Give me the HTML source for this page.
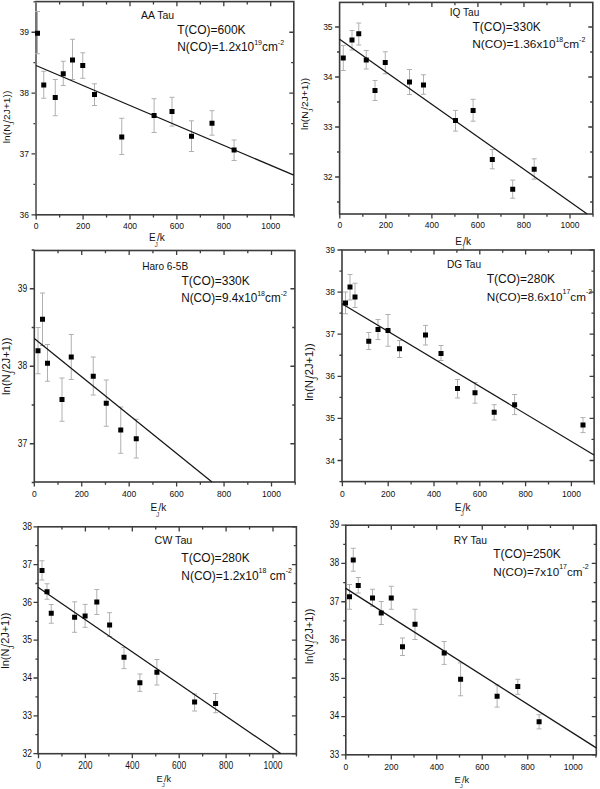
<!DOCTYPE html>
<html><head><meta charset="utf-8"><style>
html,body{margin:0;padding:0;background:#fff;}
body{width:600px;height:789px;overflow:hidden;}
svg{display:block;}
text{font-family:"Liberation Sans", sans-serif;fill:#111;}
</style></head><body>
<svg width="600" height="789" viewBox="0 0 600 789">
<rect width="600" height="789" fill="#fff"/>
<g><path d="M36.2 214.8v4.6M59.65 214.8v2.8M59.65 1.6v2.8M83.1 214.8v4.6M83.1 1.6v4.6M106.55 214.8v2.8M106.55 1.6v2.8M130 214.8v4.6M130 1.6v4.6M153.45 214.8v2.8M153.45 1.6v2.8M176.9 214.8v4.6M176.9 1.6v4.6M200.35 214.8v2.8M200.35 1.6v2.8M223.8 214.8v4.6M223.8 1.6v4.6M247.25 214.8v2.8M247.25 1.6v2.8M270.7 214.8v4.6M270.7 1.6v4.6M294.15 214.8v2.8M36 214.8h-4.5M293.8 214.8h-4.5M36 153.95h-4.5M293.8 153.95h-4.5M36 93.1h-4.5M293.8 93.1h-4.5M36 32.25h-4.5M293.8 32.25h-4.5M36 184.38h-2.6M293.8 184.38h-2.6M36 123.53h-2.6M293.8 123.53h-2.6M36 62.68h-2.6M293.8 62.68h-2.6M36 1.83h-2.6" stroke="#3c3c3c" stroke-width="1.3" fill="none"/>
<rect x="36" y="1.6" width="257.8" height="213.2" stroke="#3c3c3c" stroke-width="1.6" fill="none"/>
<line x1="36" y1="2.6" x2="36" y2="213.8" stroke="#fff" stroke-width="1.8"/>
<line x1="36" y1="2.4" x2="36" y2="214" stroke="#6e6e6e" stroke-width="1.9"/>
<path d="M37.5 11.5V53.75M35 11.5H40M35 53.75H40M43.75 71.25V98.25M41.25 71.25H46.25M41.25 98.25H46.25M55.25 79.5V115.75M52.75 79.5H57.75M52.75 115.75H57.75M63.25 61.25V85.5M60.75 61.25H65.75M60.75 85.5H65.75M72.5 39.25V79.5M70 39.25H75M70 79.5H75M82.75 52.75V78.25M80.25 52.75H85.25M80.25 78.25H85.25M94.5 83.75V105.5M92 83.75H97M92 105.5H97M121.75 118.25V154.5M119.25 118.25H124.25M119.25 154.5H124.25M154.1 98.7V132.5M151.6 98.7H156.6M151.6 132.5H156.6M172 97.3V126.1M169.5 97.3H174.5M169.5 126.1H174.5M191.5 120.8V151.5M189 120.8H194M189 151.5H194M212 110.7V135.2M209.5 110.7H214.5M209.5 135.2H214.5M234.1 140V160.5M231.6 140H236.6M231.6 160.5H236.6" stroke="#b0b0b0" stroke-width="1" fill="none"/>
<line x1="36" y1="65.5" x2="293.8" y2="175.2" stroke="#151515" stroke-width="1.25"/>
<path d="M35 30.7h5v5h-5zM41.25 82.5h5v5h-5zM52.75 95h5v5h-5zM60.75 71.25h5v5h-5zM70 57.5h5v5h-5zM80.25 63h5v5h-5zM92 92h5v5h-5zM119.25 134.5h5v5h-5zM151.6 113h5v5h-5zM169.5 109h5v5h-5zM189 133.8h5v5h-5zM209.5 120.7h5v5h-5zM231.6 147.4h5v5h-5z" fill="#000"/>
<g font-size="8.5"><text transform="translate(36.2 225.9) scale(1 1.0)" y="3.05" text-anchor="middle">0</text><text transform="translate(83.1 225.9) scale(1 1.0)" y="3.05" text-anchor="middle">200</text><text transform="translate(130 225.9) scale(1 1.0)" y="3.05" text-anchor="middle">400</text><text transform="translate(176.9 225.9) scale(1 1.0)" y="3.05" text-anchor="middle">600</text><text transform="translate(223.8 225.9) scale(1 1.0)" y="3.05" text-anchor="middle">800</text><text transform="translate(270.7 225.9) scale(1 1.0)" y="3.05" text-anchor="middle">1000</text><text transform="translate(29 214.8) scale(1 1.0)" y="3.05" text-anchor="end">36</text><text transform="translate(29 153.95) scale(1 1.0)" y="3.05" text-anchor="end">37</text><text transform="translate(29 93.1) scale(1 1.0)" y="3.05" text-anchor="end">38</text><text transform="translate(29 32.25) scale(1 1.0)" y="3.05" text-anchor="end">39</text></g>
<text x="141" y="19.2" font-size="10.5">AA Tau</text>
<text transform="translate(177.2 33.9) scale(1 1.0)" font-size="12">T(CO)=600K</text>
<text transform="translate(177.2 50.6) scale(1 1.0)" font-size="11.9" xml:space="preserve">N(CO)=1.2x10<tspan font-size="7" dy="-5.6">19</tspan><tspan dy="5.6">cm</tspan><tspan font-size="7" dy="-5.6">-2</tspan></text>
<text x="149" y="241.3" font-size="10">E</text>
<text x="154.6" y="246.7" font-size="6.6" style="fill:#444">J</text>
<text x="157" y="241.3" font-size="10">/k</text>
<g transform="translate(9.8 116.9) rotate(-90) scale(1.035 1)" font-size="9.9"><text x="-25.41" y="0">ln(N</text><text x="-7.56" y="4.55" font-size="6.14">J</text><text x="-5.68" y="0">/2J+1))</text></g></g>
<g><path d="M339.8 214v4.6M362.82 214v2.8M362.82 2.4v2.8M385.84 214v4.6M385.84 2.4v4.6M408.86 214v2.8M408.86 2.4v2.8M431.88 214v4.6M431.88 2.4v4.6M454.9 214v2.8M454.9 2.4v2.8M477.92 214v4.6M477.92 2.4v4.6M500.94 214v2.8M500.94 2.4v2.8M523.96 214v4.6M523.96 2.4v4.6M546.98 214v2.8M546.98 2.4v2.8M570 214v4.6M570 2.4v4.6M593.02 214v2.8M339.6 177h-4.5M592.8 177h-4.5M339.6 127h-4.5M592.8 127h-4.5M339.6 77h-4.5M592.8 77h-4.5M339.6 27h-4.5M592.8 27h-4.5M339.6 202h-2.6M592.8 202h-2.6M339.6 152h-2.6M592.8 152h-2.6M339.6 102h-2.6M592.8 102h-2.6M339.6 52h-2.6M592.8 52h-2.6" stroke="#3c3c3c" stroke-width="1.3" fill="none"/>
<rect x="339.6" y="2.4" width="253.2" height="211.6" stroke="#3c3c3c" stroke-width="1.6" fill="none"/>
<path d="M343.25 45.5V70.5M340.75 45.5H345.75M340.75 70.5H345.75M352 30.5V50M349.5 30.5H354.5M349.5 50H354.5M358.75 23V45M356.25 23H361.25M356.25 45H361.25M366.25 50.5V69M363.75 50.5H368.75M363.75 69H368.75M375 80.5V100.5M372.5 80.5H377.5M372.5 100.5H377.5M385.25 51.75V73.75M382.75 51.75H387.75M382.75 73.75H387.75M409.5 69.5V94.5M407 69.5H412M407 94.5H412M423.5 74.75V94.25M421 74.75H426M421 94.25H426M455.5 110.4V131.1M453 110.4H458M453 131.1H458M473.1 99.3V121.2M470.6 99.3H475.6M470.6 121.2H475.6M492.3 149.5V168.8M489.8 149.5H494.8M489.8 168.8H494.8M512.7 180.1V198.2M510.2 180.1H515.2M510.2 198.2H515.2M534.2 158.8V179.2M531.7 158.8H536.7M531.7 179.2H536.7" stroke="#b0b0b0" stroke-width="1" fill="none"/>
<line x1="339.6" y1="39.25" x2="587.2" y2="214" stroke="#151515" stroke-width="1.25"/>
<path d="M340.75 55.5h5v5h-5zM349.5 37.5h5v5h-5zM356.25 31.25h5v5h-5zM363.75 57.5h5v5h-5zM372.5 88h5v5h-5zM382.75 60h5v5h-5zM407 79.5h5v5h-5zM421 82.5h5v5h-5zM453 118.1h5v5h-5zM470.6 107.9h5v5h-5zM489.8 156.9h5v5h-5zM510.2 186.7h5v5h-5zM531.7 166.8h5v5h-5z" fill="#000"/>
<g font-size="8.5"><text transform="translate(339.8 224.9) scale(1 1.0)" y="3.05" text-anchor="middle">0</text><text transform="translate(385.84 224.9) scale(1 1.0)" y="3.05" text-anchor="middle">200</text><text transform="translate(431.88 224.9) scale(1 1.0)" y="3.05" text-anchor="middle">400</text><text transform="translate(477.92 224.9) scale(1 1.0)" y="3.05" text-anchor="middle">600</text><text transform="translate(523.96 224.9) scale(1 1.0)" y="3.05" text-anchor="middle">800</text><text transform="translate(570 224.9) scale(1 1.0)" y="3.05" text-anchor="middle">1000</text><text transform="translate(332.6 177) scale(1 1.0)" y="3.05" text-anchor="end">32</text><text transform="translate(332.6 127) scale(1 1.0)" y="3.05" text-anchor="end">33</text><text transform="translate(332.6 77) scale(1 1.0)" y="3.05" text-anchor="end">34</text><text transform="translate(332.6 27) scale(1 1.0)" y="3.05" text-anchor="end">35</text></g>
<text x="449.8" y="15.8" font-size="10.1">IQ Tau</text>
<text transform="translate(472.5 31) scale(1 1.0)" font-size="12">T(CO)=330K</text>
<text transform="translate(472.3 48.1) scale(1 1.0)" font-size="11.83" xml:space="preserve">N(CO)=1.36x10<tspan font-size="7" dy="-6.2">18</tspan><tspan dy="6.2">cm</tspan><tspan font-size="7" dy="-6.2">-2</tspan></text>
<text x="455.3" y="244.9" font-size="10">E</text>
<text x="460.9" y="250.3" font-size="6.6" style="fill:#444">J</text>
<text x="463.3" y="244.9" font-size="10">/k</text>
<g transform="translate(308 104) rotate(-90) scale(1.035 1)" font-size="9.8"><text x="-25.15" y="0">ln(N</text><text x="-7.48" y="4.51" font-size="6.08">J</text><text x="-5.62" y="0">/2J+1))</text></g></g>
<g><path d="M34.3 482v4.6M58.02 482v2.8M58.02 250.5v2.8M81.74 482v4.6M81.74 250.5v4.6M105.46 482v2.8M105.46 250.5v2.8M129.18 482v4.6M129.18 250.5v4.6M152.9 482v2.8M152.9 250.5v2.8M176.62 482v4.6M176.62 250.5v4.6M200.34 482v2.8M200.34 250.5v2.8M224.06 482v4.6M224.06 250.5v4.6M247.78 482v2.8M247.78 250.5v2.8M271.5 482v4.6M271.5 250.5v4.6M295.22 482v2.8M34.3 443.75h-4.5M294.9 443.75h-4.5M34.3 366.25h-4.5M294.9 366.25h-4.5M34.3 288.75h-4.5M294.9 288.75h-4.5M34.3 482.5h-2.6M34.3 405h-2.6M294.9 405h-2.6M34.3 327.5h-2.6M294.9 327.5h-2.6M34.3 250h-2.6" stroke="#3c3c3c" stroke-width="1.3" fill="none"/>
<rect x="34.3" y="250.5" width="260.6" height="231.5" stroke="#3c3c3c" stroke-width="1.6" fill="none"/>
<path d="M38 327.5V373.75M35.5 327.5H40.5M35.5 373.75H40.5M42.5 293V345.5M40 293H45M40 345.5H45M47.5 344.5V381.25M45 344.5H50M45 381.25H50M62 378V421.25M59.5 378H64.5M59.5 421.25H64.5M71.25 334.5V379.5M68.75 334.5H73.75M68.75 379.5H73.75M93.25 357V395M90.75 357H95.75M90.75 395H95.75M106.25 380V426.25M103.75 380H108.75M103.75 426.25H108.75M120.75 407V453.25M118.25 407H123.25M118.25 453.25H123.25M136.25 419.25V458M133.75 419.25H138.75M133.75 458H138.75" stroke="#b0b0b0" stroke-width="1" fill="none"/>
<line x1="34.3" y1="338.4" x2="212" y2="482" stroke="#151515" stroke-width="1.25"/>
<path d="M35.5 348.25h5v5h-5zM40 316.75h5v5h-5zM45 360.75h5v5h-5zM59.5 397h5v5h-5zM68.75 354.5h5v5h-5zM90.75 373.75h5v5h-5zM103.75 400.75h5v5h-5zM118.25 427.5h5v5h-5zM133.75 436.25h5v5h-5z" fill="#000"/>
<g font-size="8.5"><text transform="translate(34.3 493.9) scale(1 1.0)" y="3.05" text-anchor="middle">0</text><text transform="translate(81.74 493.9) scale(1 1.0)" y="3.05" text-anchor="middle">200</text><text transform="translate(129.18 493.9) scale(1 1.0)" y="3.05" text-anchor="middle">400</text><text transform="translate(176.62 493.9) scale(1 1.0)" y="3.05" text-anchor="middle">600</text><text transform="translate(224.06 493.9) scale(1 1.0)" y="3.05" text-anchor="middle">800</text><text transform="translate(271.5 493.9) scale(1 1.0)" y="3.05" text-anchor="middle">1000</text><text transform="translate(27.3 442.95) scale(1 1.22)" y="3.05" text-anchor="end">37</text><text transform="translate(27.3 365.45) scale(1 1.22)" y="3.05" text-anchor="end">38</text><text transform="translate(27.3 287.95) scale(1 1.22)" y="3.05" text-anchor="end">39</text></g>
<text x="142.2" y="269.8" font-size="10.1">Haro 6-5B</text>
<text transform="translate(181.4 284.7) scale(1 1.1)" font-size="12.0">T(CO)=330K</text>
<text transform="translate(181.2 302.4) scale(1 1.1)" font-size="11.75" xml:space="preserve">N(CO)=9.4x10<tspan font-size="7" dy="-5.8">18</tspan><tspan dy="5.8">cm</tspan><tspan font-size="7" dy="-5.8">-2</tspan></text>
<text x="150.4" y="511.3" font-size="10">E</text>
<text x="156" y="516.7" font-size="6.6" style="fill:#444">J</text>
<text x="158.4" y="511.3" font-size="10">/k</text>
<g transform="translate(10.4 366.3) rotate(-90) scale(1.035 1)" font-size="10.8"><text x="-27.72" y="0">ln(N</text><text x="-8.25" y="4.97" font-size="6.7">J</text><text x="-6.19" y="0">/2J+1))</text></g></g>
<g><path d="M342.4 481.6v4.6M365.3 481.6v2.8M365.3 250v2.8M388.2 481.6v4.6M388.2 250v4.6M411.1 481.6v2.8M411.1 250v2.8M434 481.6v4.6M434 250v4.6M456.9 481.6v2.8M456.9 250v2.8M479.8 481.6v4.6M479.8 250v4.6M502.7 481.6v2.8M502.7 250v2.8M525.6 481.6v4.6M525.6 250v4.6M548.5 481.6v2.8M548.5 250v2.8M571.4 481.6v4.6M571.4 250v4.6M594.3 481.6v2.8M342 460.5h-4.5M594.1 460.5h-4.5M342 418.4h-4.5M594.1 418.4h-4.5M342 376.3h-4.5M594.1 376.3h-4.5M342 334.2h-4.5M594.1 334.2h-4.5M342 292.1h-4.5M594.1 292.1h-4.5M342 250h-4.5M594.1 250h-4.5M342 481.55h-2.6M342 439.45h-2.6M594.1 439.45h-2.6M342 397.35h-2.6M594.1 397.35h-2.6M342 355.25h-2.6M594.1 355.25h-2.6M342 313.15h-2.6M594.1 313.15h-2.6M342 271.05h-2.6M594.1 271.05h-2.6" stroke="#3c3c3c" stroke-width="1.3" fill="none"/>
<rect x="342" y="250" width="252.1" height="231.6" stroke="#3c3c3c" stroke-width="1.6" fill="none"/>
<path d="M345.5 292V313.75M343 292H348M343 313.75H348M350 274.5V300M347.5 274.5H352.5M347.5 300H352.5M355 283.25V307.5M352.5 283.25H357.5M352.5 307.5H357.5M368.75 332.5V349.5M366.25 332.5H371.25M366.25 349.5H371.25M378 319.5V339.5M375.5 319.5H380.5M375.5 339.5H380.5M388 314.5V346.25M385.5 314.5H390.5M385.5 346.25H390.5M399.5 340.5V357.5M397 340.5H402M397 357.5H402M425.5 325.4V345M423 325.4H428M423 345H428M441 345.5V360.5M438.5 345.5H443.5M438.5 360.5H443.5M457.5 379.5V398M455 379.5H460M455 398H460M475 382.5V403.2M472.5 382.5H477.5M472.5 403.2H477.5M494.2 404.7V420M491.7 404.7H496.7M491.7 420H496.7M514.6 394.5V414.6M512.1 394.5H517.1M512.1 414.6H517.1M583 417.6V432.6M580.5 417.6H585.5M580.5 432.6H585.5" stroke="#b0b0b0" stroke-width="1" fill="none"/>
<line x1="342" y1="303.75" x2="594" y2="455" stroke="#151515" stroke-width="1.25"/>
<path d="M343 300.5h5v5h-5zM347.5 284.5h5v5h-5zM352.5 294.5h5v5h-5zM366.25 338.75h5v5h-5zM375.5 327h5v5h-5zM385.5 328h5v5h-5zM397 346.25h5v5h-5zM423 332.5h5v5h-5zM438.5 351.1h5v5h-5zM455 386h5v5h-5zM472.5 390.2h5v5h-5zM491.7 409.7h5v5h-5zM512.1 402.2h5v5h-5zM580.5 422.6h5v5h-5z" fill="#000"/>
<g font-size="8.5"><text transform="translate(342.4 493.95) scale(1 1.0)" y="3.05" text-anchor="middle">0</text><text transform="translate(388.2 493.95) scale(1 1.0)" y="3.05" text-anchor="middle">200</text><text transform="translate(434 493.95) scale(1 1.0)" y="3.05" text-anchor="middle">400</text><text transform="translate(479.8 493.95) scale(1 1.0)" y="3.05" text-anchor="middle">600</text><text transform="translate(525.6 493.95) scale(1 1.0)" y="3.05" text-anchor="middle">800</text><text transform="translate(571.4 493.95) scale(1 1.0)" y="3.05" text-anchor="middle">1000</text><text transform="translate(335 460.5) scale(1 1.0)" y="3.05" text-anchor="end">34</text><text transform="translate(335 418.4) scale(1 1.0)" y="3.05" text-anchor="end">35</text><text transform="translate(335 376.3) scale(1 1.0)" y="3.05" text-anchor="end">36</text><text transform="translate(335 334.2) scale(1 1.0)" y="3.05" text-anchor="end">37</text><text transform="translate(335 292.1) scale(1 1.0)" y="3.05" text-anchor="end">38</text><text transform="translate(335 250) scale(1 1.0)" y="3.05" text-anchor="end">39</text></g>
<text x="447" y="267.7" font-size="10.1">DG Tau</text>
<text transform="translate(486.7 282.8) scale(1 1.0)" font-size="12">T(CO)=280K</text>
<text transform="translate(486.7 300.6) scale(1 1.0)" font-size="11.72" xml:space="preserve">N(CO)=8.6x10<tspan font-size="7" dy="-6.3">17</tspan><tspan dy="6.3">cm</tspan><tspan font-size="7" dy="-6.3">-2</tspan></text>
<text x="454.8" y="510.8" font-size="10">E</text>
<text x="460.4" y="516.2" font-size="6.6" style="fill:#444">J</text>
<text x="462.8" y="510.8" font-size="10">/k</text>
<g transform="translate(312.8 372) rotate(-90) scale(1.035 1)" font-size="10.8"><text x="-27.72" y="0">ln(N</text><text x="-8.25" y="4.97" font-size="6.7">J</text><text x="-6.19" y="0">/2J+1))</text></g></g>
<g><path d="M38.5 753.7v4.6M61.95 753.7v2.8M61.95 526.8v2.8M85.4 753.7v4.6M85.4 526.8v4.6M108.85 753.7v2.8M108.85 526.8v2.8M132.3 753.7v4.6M132.3 526.8v4.6M155.75 753.7v2.8M155.75 526.8v2.8M179.2 753.7v4.6M179.2 526.8v4.6M202.65 753.7v2.8M202.65 526.8v2.8M226.1 753.7v4.6M226.1 526.8v4.6M249.55 753.7v2.8M249.55 526.8v2.8M273 753.7v4.6M273 526.8v4.6M296.45 753.7v2.8M38 753.6h-4.5M296.4 753.6h-4.5M38 715.8h-4.5M296.4 715.8h-4.5M38 678h-4.5M296.4 678h-4.5M38 640.2h-4.5M296.4 640.2h-4.5M38 602.4h-4.5M296.4 602.4h-4.5M38 564.6h-4.5M296.4 564.6h-4.5M38 526.8h-4.5M296.4 526.8h-4.5M38 734.7h-2.6M296.4 734.7h-2.6M38 696.9h-2.6M296.4 696.9h-2.6M38 659.1h-2.6M296.4 659.1h-2.6M38 621.3h-2.6M296.4 621.3h-2.6M38 583.5h-2.6M296.4 583.5h-2.6M38 545.7h-2.6M296.4 545.7h-2.6" stroke="#3c3c3c" stroke-width="1.3" fill="none"/>
<rect x="38" y="526.8" width="258.4" height="226.9" stroke="#3c3c3c" stroke-width="1.6" fill="none"/>
<path d="M42 560.75V580M39.5 560.75H44.5M39.5 580H44.5M47 583.75V599.25M44.5 583.75H49.5M44.5 599.25H49.5M51.25 604.5V623.25M48.75 604.5H53.75M48.75 623.25H53.75M74.6 601.8V632.3M72.1 601.8H77.1M72.1 632.3H77.1M85.1 604.4V627.3M82.6 604.4H87.6M82.6 627.3H87.6M96.8 589.5V614.5M94.3 589.5H99.3M94.3 614.5H99.3M109.6 612.7V636.6M107.1 612.7H112.1M107.1 636.6H112.1M124 647.5V668.6M121.5 647.5H126.5M121.5 668.6H126.5M139.9 674V691.3M137.4 674H142.4M137.4 691.3H142.4M156.9 659.5V685M154.4 659.5H159.4M154.4 685H159.4M194.6 694V711M192.1 694H197.1M192.1 711H197.1M215.6 693.5V712.7M213.1 693.5H218.1M213.1 712.7H218.1" stroke="#b0b0b0" stroke-width="1" fill="none"/>
<line x1="38" y1="587.3" x2="280.7" y2="753.6" stroke="#151515" stroke-width="1.25"/>
<path d="M39.5 568h5v5h-5zM44.5 589.25h5v5h-5zM48.75 610.75h5v5h-5zM72.1 614.7h5v5h-5zM82.6 613.5h5v5h-5zM94.3 599.5h5v5h-5zM107.1 622.4h5v5h-5zM121.5 654.8h5v5h-5zM137.4 680.3h5v5h-5zM154.4 669.7h5v5h-5zM192.1 699.5h5v5h-5zM213.1 700.9h5v5h-5z" fill="#000"/>
<g font-size="8.5"><text transform="translate(38.5 765.75) scale(1 1.2)" y="3.05" text-anchor="middle">0</text><text transform="translate(85.4 765.75) scale(1 1.2)" y="3.05" text-anchor="middle">200</text><text transform="translate(132.3 765.75) scale(1 1.2)" y="3.05" text-anchor="middle">400</text><text transform="translate(179.2 765.75) scale(1 1.2)" y="3.05" text-anchor="middle">600</text><text transform="translate(226.1 765.75) scale(1 1.2)" y="3.05" text-anchor="middle">800</text><text transform="translate(273 765.75) scale(1 1.2)" y="3.05" text-anchor="middle">1000</text><text transform="translate(32 753.1) scale(1 1.22)" y="3.05" text-anchor="end">32</text><text transform="translate(32 715.3) scale(1 1.22)" y="3.05" text-anchor="end">33</text><text transform="translate(32 677.5) scale(1 1.22)" y="3.05" text-anchor="end">34</text><text transform="translate(32 639.7) scale(1 1.22)" y="3.05" text-anchor="end">35</text><text transform="translate(32 601.9) scale(1 1.22)" y="3.05" text-anchor="end">36</text><text transform="translate(32 564.1) scale(1 1.22)" y="3.05" text-anchor="end">37</text><text transform="translate(32 526.3) scale(1 1.22)" y="3.05" text-anchor="end">38</text></g>
<text x="154.5" y="543.8" font-size="10.7">CW Tau</text>
<text transform="translate(181.3 561.9) scale(1 1.0)" font-size="12">T(CO)=280K</text>
<text transform="translate(181.3 579.5) scale(1 1.0)" font-size="11.95" xml:space="preserve">N(CO)=1.2x10<tspan font-size="7" dy="-6.3">18</tspan><tspan dy="6.3"> cm</tspan><tspan font-size="7" dy="-6.3">-2</tspan></text>
<text x="156.4" y="782" font-size="9.3">E</text>
<text x="161.65" y="787.02" font-size="6.14" style="fill:#444">J</text>
<text x="163.88" y="782" font-size="9.3">/k</text>
<g transform="translate(9.2 640.6) rotate(-90) scale(1.035 1)" font-size="10.6"><text x="-27.2" y="0">ln(N</text><text x="-8.09" y="4.88" font-size="6.57">J</text><text x="-6.08" y="0">/2J+1))</text></g></g>
<g><path d="M345.8 754.8v4.6M368.54 754.8v2.8M368.54 525.2v2.8M391.28 754.8v4.6M391.28 525.2v4.6M414.02 754.8v2.8M414.02 525.2v2.8M436.76 754.8v4.6M436.76 525.2v4.6M459.5 754.8v2.8M459.5 525.2v2.8M482.24 754.8v4.6M482.24 525.2v4.6M504.98 754.8v2.8M504.98 525.2v2.8M527.72 754.8v4.6M527.72 525.2v4.6M550.46 754.8v2.8M550.46 525.2v2.8M573.2 754.8v4.6M573.2 525.2v4.6M595.94 754.8v2.8M345.8 754.82h-4.5M596.3 754.82h-4.5M345.8 716.55h-4.5M596.3 716.55h-4.5M345.8 678.28h-4.5M596.3 678.28h-4.5M345.8 640.01h-4.5M596.3 640.01h-4.5M345.8 601.74h-4.5M596.3 601.74h-4.5M345.8 563.47h-4.5M596.3 563.47h-4.5M345.8 525.2h-4.5M596.3 525.2h-4.5M345.8 735.69h-2.6M596.3 735.69h-2.6M345.8 697.42h-2.6M596.3 697.42h-2.6M345.8 659.15h-2.6M596.3 659.15h-2.6M345.8 620.88h-2.6M596.3 620.88h-2.6M345.8 582.61h-2.6M596.3 582.61h-2.6M345.8 544.34h-2.6M596.3 544.34h-2.6" stroke="#3c3c3c" stroke-width="1.3" fill="none"/>
<rect x="345.8" y="525.2" width="250.5" height="229.6" stroke="#3c3c3c" stroke-width="1.6" fill="none"/>
<path d="M349.5 584.5V609.25M347 584.5H352M347 609.25H352M353.25 548.25V571.25M350.75 548.25H355.75M350.75 571.25H355.75M358.25 577.5V593M355.75 577.5H360.75M355.75 593H360.75M372.5 589.25V606.25M370 589.25H375M370 606.25H375M381.25 601.5V624.5M378.75 601.5H383.75M378.75 624.5H383.75M391.25 586.25V609.25M388.75 586.25H393.75M388.75 609.25H393.75M402.5 638V655.5M400 638H405M400 655.5H405M415 609.25V639.5M412.5 609.25H417.5M412.5 639.5H417.5M444.2 641.5V664.4M441.7 641.5H446.7M441.7 664.4H446.7M460.6 662.9V695.8M458.1 662.9H463.1M458.1 695.8H463.1M497.1 685V707.1M494.6 685H499.6M494.6 707.1H499.6M517.8 679.3V694.3M515.3 679.3H520.3M515.3 694.3H520.3M539.1 714.7V728.9M536.6 714.7H541.6M536.6 728.9H541.6" stroke="#b0b0b0" stroke-width="1" fill="none"/>
<line x1="345.8" y1="588.4" x2="596.3" y2="747.9" stroke="#151515" stroke-width="1.25"/>
<path d="M347 594.25h5v5h-5zM350.75 557.5h5v5h-5zM355.75 583h5v5h-5zM370 595.5h5v5h-5zM378.75 610.5h5v5h-5zM388.75 595.5h5v5h-5zM400 644.25h5v5h-5zM412.5 621.75h5v5h-5zM441.7 650.5h5v5h-5zM458.1 676.8h5v5h-5zM494.6 693.8h5v5h-5zM515.3 683.9h5v5h-5zM536.6 719.3h5v5h-5z" fill="#000"/>
<g font-size="8.5"><text transform="translate(345.8 767.35) scale(1 1.0)" y="3.05" text-anchor="middle">0</text><text transform="translate(391.28 767.35) scale(1 1.0)" y="3.05" text-anchor="middle">200</text><text transform="translate(436.76 767.35) scale(1 1.0)" y="3.05" text-anchor="middle">400</text><text transform="translate(482.24 767.35) scale(1 1.0)" y="3.05" text-anchor="middle">600</text><text transform="translate(527.72 767.35) scale(1 1.0)" y="3.05" text-anchor="middle">800</text><text transform="translate(573.2 767.35) scale(1 1.0)" y="3.05" text-anchor="middle">1000</text><text transform="translate(339.3 753.92) scale(1 1.22)" y="3.05" text-anchor="end">33</text><text transform="translate(339.3 715.65) scale(1 1.22)" y="3.05" text-anchor="end">34</text><text transform="translate(339.3 677.38) scale(1 1.22)" y="3.05" text-anchor="end">35</text><text transform="translate(339.3 639.11) scale(1 1.22)" y="3.05" text-anchor="end">36</text><text transform="translate(339.3 600.84) scale(1 1.22)" y="3.05" text-anchor="end">37</text><text transform="translate(339.3 562.57) scale(1 1.22)" y="3.05" text-anchor="end">38</text><text transform="translate(339.3 524.3) scale(1 1.22)" y="3.05" text-anchor="end">39</text></g>
<text x="453.8" y="543.9" font-size="10.3">RY Tau</text>
<text transform="translate(493.2 557.7) scale(1 1.0)" font-size="11.85">T(CO)=250K</text>
<text transform="translate(493.3 575.6) scale(1 1.0)" font-size="11.68" xml:space="preserve">N(CO)=7x10<tspan font-size="7" dy="-6.6">17</tspan><tspan dy="6.6">cm</tspan><tspan font-size="7" dy="-6.6">-2</tspan></text>
<text x="454.4" y="782.6" font-size="9.3">E</text>
<text x="459.65" y="787.62" font-size="6.14" style="fill:#444">J</text>
<text x="461.88" y="782.6" font-size="9.3">/k</text>
<g transform="translate(312.9 636.3) rotate(-90) scale(1.035 1)" font-size="10.4"><text x="-26.69" y="0">ln(N</text><text x="-7.94" y="4.78" font-size="6.45">J</text><text x="-5.96" y="0">/2J+1))</text></g></g>
</svg>
</body></html>
